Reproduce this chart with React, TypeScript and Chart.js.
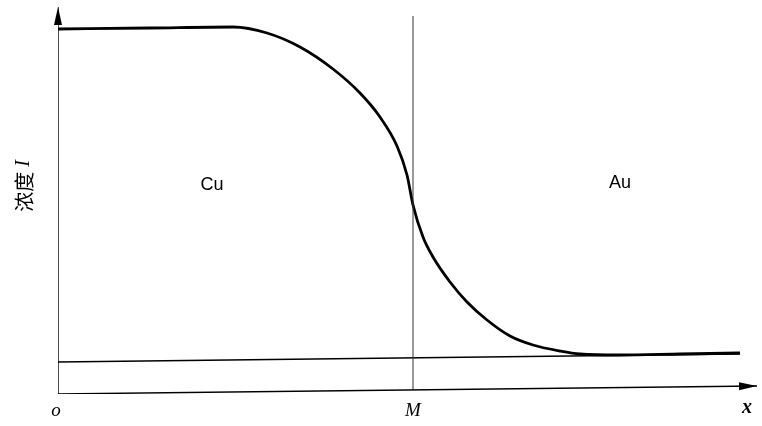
import React, { useEffect, useRef } from "react";
import { Chart, registerables } from "chart.js";

Chart.register(...registerables);

// Concentration curve (x: distance from origin, y: concentration)
const curveX = [0, 92, 175, 209, 242, 275, 302, 322, 339, 349, 355, 365, 375, 392, 409, 429, 452, 475, 502, 522, 562, 622, 682];
const curveY = [365, 366, 367, 361, 347, 325, 301, 277, 248, 219, 189, 157, 137, 112, 92, 74, 58, 49, 43, 40, 39, 40, 41];

// Reference lines
const baseX = [0, 682];
const baseY = [32, 40];
const xAxisX = [0, 699];
const xAxisY = [0, 8];
const yAxisX = [0, 0];
const yAxisY = [0, 387];
const mX = [355, 355];
const mY = [4, 378];

// Text labels
const labelTexts = ["Cu", "Au", "o", "M", "x"];
const labelX = [154, 562, -2, 355, 689];
const labelY = [209, 211, -17, -17, -14];
const yTitle = "浓度";
const yTitleVar = "I";

const pts = (xs: number[], ys: number[]) => xs.map((x, i) => ({ x, y: ys[i] }));

const arrowPlugin = {
  id: "arrows",
  afterDatasetsDraw(chart: any) {
    const ctx = chart.ctx;
    const xs = chart.scales.x;
    const ys = chart.scales.y;
    const drawArrow = (xArr: number[], yArr: number[]) => {
      const n = xArr.length;
      const x1 = xs.getPixelForValue(xArr[n - 2]);
      const y1 = ys.getPixelForValue(yArr[n - 2]);
      const x2 = xs.getPixelForValue(xArr[n - 1]);
      const y2 = ys.getPixelForValue(yArr[n - 1]);
      const a = Math.atan2(y2 - y1, x2 - x1);
      const len = 18;
      const hw = 4;
      ctx.save();
      ctx.fillStyle = "#000";
      ctx.beginPath();
      ctx.moveTo(x2, y2);
      ctx.lineTo(x2 - len * Math.cos(a) + hw * Math.sin(a), y2 - len * Math.sin(a) - hw * Math.cos(a));
      ctx.lineTo(x2 - len * Math.cos(a) - hw * Math.sin(a), y2 - len * Math.sin(a) + hw * Math.cos(a));
      ctx.closePath();
      ctx.fill();
      ctx.restore();
    };
    drawArrow(xAxisX, xAxisY);
    drawArrow(yAxisX, yAxisY);
  },
};

const labelPlugin = {
  id: "labels",
  afterDraw(chart: any) {
    const ctx = chart.ctx;
    const xs = chart.scales.x;
    const ys = chart.scales.y;
    ctx.save();
    ctx.fillStyle = "#000";
    ctx.textAlign = "center";
    ctx.textBaseline = "middle";
    labelTexts.forEach((t, i) => {
      const px = xs.getPixelForValue(labelX[i]);
      const py = ys.getPixelForValue(labelY[i]);
      if (t === "Cu" || t === "Au") ctx.font = "18px 'Liberation Sans', sans-serif";
      else if (t === "x") ctx.font = "bold italic 20px 'Liberation Serif', serif";
      else ctx.font = "italic 19px 'Liberation Serif', serif";
      ctx.fillText(t, px, py);
    });
    // rotated y title
    const cx = xs.getPixelForValue(-34);
    const cy = ys.getPixelForValue(208);
    ctx.translate(cx, cy);
    ctx.rotate(-Math.PI / 2);
    ctx.font = "20px 'Noto Sans CJK SC', sans-serif";
    const w1 = ctx.measureText(yTitle).width;
    ctx.font = "italic 20px 'Liberation Serif', serif";
    const gap = 5;
    const w2 = ctx.measureText(yTitleVar).width;
    const total = w1 + gap + w2;
    ctx.textAlign = "left";
    ctx.font = "20px 'Noto Sans CJK SC', sans-serif";
    ctx.fillText(yTitle, -total / 2, 0);
    ctx.font = "italic 20px 'Liberation Serif', serif";
    ctx.fillText(yTitleVar, -total / 2 + w1 + gap, 0);
    ctx.restore();
  },
};

export default function App() {
  const ref = useRef<HTMLCanvasElement>(null);
  useEffect(() => {
    if (!ref.current) return;
    const lineDs = (data: any[], width: number, color = "#000") => ({
      data,
      borderColor: color,
      borderWidth: width,
      pointRadius: 0,
      fill: false,
      tension: 0,
    });
    const chart = new Chart(ref.current, {
      type: "scatter",
      data: {
        datasets: [
          lineDs(pts(xAxisX, xAxisY), 1.4),
          lineDs(pts(yAxisX, yAxisY), 1.4),
          lineDs(pts(mX, mY), 1, "#333"),
          lineDs(pts(baseX, baseY), 1.5),
          {
            ...lineDs(pts(curveX, curveY), 2.8),
            cubicInterpolationMode: "monotone",
          },
        ],
      } as any,
      options: {
        animation: false,
        responsive: false,
        showLine: true,
        layout: { padding: { left: 58, right: 4, top: 4, bottom: 32 } },
        scales: {
          x: { type: "linear", min: 0, max: 700, display: false },
          y: { type: "linear", min: 0, max: 390, display: false },
        },
        plugins: { legend: { display: false }, tooltip: { enabled: false } },
        elements: { line: { borderCapStyle: "butt", borderJoinStyle: "round" } },
      } as any,
      plugins: [arrowPlugin, labelPlugin],
    });
    return () => chart.destroy();
  }, []);
  return (
    <div style={{ position: "absolute", left: 0, top: 0, width: 762, height: 426, background: "#fff" }}>
      <canvas ref={ref} width={762} height={426} />
    </div>
  );
}
